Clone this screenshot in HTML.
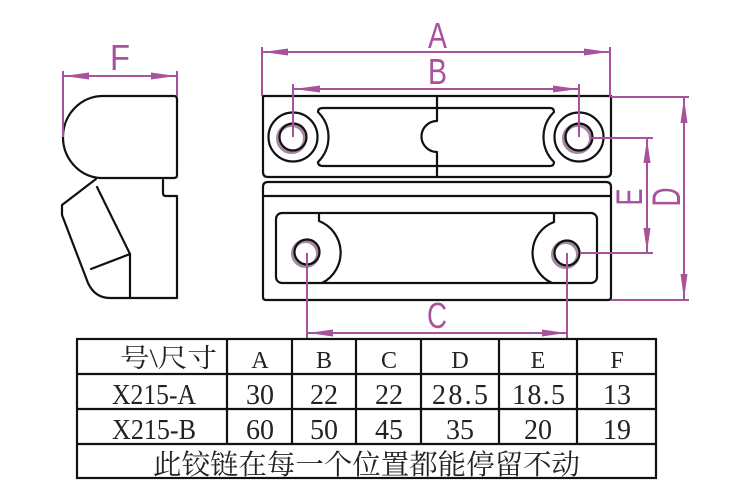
<!DOCTYPE html>
<html>
<head>
<meta charset="utf-8">
<style>
html,body{margin:0;padding:0;background:#fff;}
svg{display:block;}
</style>
</head>
<body>
<svg width="750" height="500" viewBox="0 0 750 500" xmlns="http://www.w3.org/2000/svg">
<rect x="0" y="0" width="750" height="500" fill="#fff"/>

<!-- ===== Side view (left) ===== -->
<g fill="none" stroke="#111" stroke-width="2.2" stroke-linejoin="round" stroke-linecap="round">
  <path d="M102,96 H174 Q177,96 177,99 V175 Q177,178 174,178 H100 A40 41 0 0 1 63,137 A40 41 0 0 1 102,96 Z"/>
  <path d="M96,179 L62,205 V215 L88,283 Q95,298 110,298 H177 V196 H166 Q163,196 163,193 V180"/>
  <path d="M97,187 L130,254 V298"/>
  <path d="M130,254 L91,269"/>
</g>

<!-- ===== Front view: upper block ===== -->
<g fill="none" stroke="#111" stroke-width="2.2" stroke-linejoin="round">
  <path d="M263,96 H611 V172 Q611,177 606,177 H268 Q263,177 263,172 Z"/>
  <path d="M437,108 H323 Q318,108 318,112 A35 35 0 0 1 318,162 Q318,166 323,166 H437"/>
  <path d="M437,108 H550 Q554,108 554,112 A35 35 0 0 0 554,162 Q554,166 550,166 H437"/>
  <path d="M437,96 V121 A15.5 15.5 0 0 0 437,152 V177"/>
  <circle cx="293" cy="137" r="24.5"/>
  <circle cx="579" cy="137" r="24.5"/>
</g>
<g fill="none" stroke="#8f6a8c" stroke-width="4" opacity="0.8">
  <circle cx="291.5" cy="138.5" r="13.5"/>
  <circle cx="577.5" cy="138.5" r="13.5"/>
  <circle cx="305.5" cy="253.5" r="12.5"/>
  <circle cx="565.5" cy="254.5" r="12.5"/>
</g>
<g fill="none" stroke="#111" stroke-width="2.2">
  <circle cx="293" cy="137" r="13.5"/>
  <circle cx="579" cy="137" r="13.5"/>
  <circle cx="307" cy="252" r="12.5"/>
  <circle cx="567" cy="253" r="12.5"/>
</g>

<!-- ===== Front view: lower block ===== -->
<g fill="none" stroke="#111" stroke-width="2.2" stroke-linejoin="round">
  <path d="M268,182 H606 Q611,182 611,187 V297 Q611,300 608,300 H266 Q263,300 263,297 V187 Q263,182 268,182 Z"/>
  <path d="M263,196 H611"/>
  <rect x="276" y="213" width="321" height="70" rx="6" ry="6"/>
  <path d="M319,213 V221 A34 34 0 0 1 322,283"/>
  <path d="M554,213 V222 A33 33 0 0 0 552,283"/>
</g>

<!-- ===== Dimensions (purple) ===== -->
<g stroke="#a9529c" stroke-width="2" fill="none">
  <line x1="262" y1="47" x2="262" y2="96"/>
  <line x1="610" y1="47" x2="610" y2="97"/>
  <line x1="263" y1="52" x2="609" y2="52"/>
  <line x1="293" y1="84" x2="293" y2="137"/>
  <line x1="579" y1="84" x2="579" y2="137"/>
  <line x1="294" y1="89" x2="578" y2="89"/>
  <line x1="307" y1="253" x2="307" y2="338"/>
  <line x1="567" y1="253" x2="567" y2="338"/>
  <line x1="308" y1="333" x2="566" y2="333"/>
  <line x1="611" y1="97" x2="689" y2="97"/>
  <line x1="611" y1="300" x2="689" y2="300"/>
  <line x1="684" y1="98" x2="684" y2="299"/>
  <line x1="590" y1="138" x2="653" y2="138"/>
  <line x1="581" y1="253" x2="653" y2="253"/>
  <line x1="647" y1="139" x2="647" y2="252"/>
  <line x1="63" y1="71" x2="63" y2="137"/>
  <line x1="177" y1="71" x2="177" y2="96"/>
  <line x1="64" y1="76" x2="176" y2="76"/>
</g>
<g fill="#a9529c" stroke="none">
  <polygon points="263,52 288,48.5 288,55.5"/>
  <polygon points="609,52 584,48.5 584,55.5"/>
  <polygon points="294,89 320,85.5 320,92.5"/>
  <polygon points="578,89 553,85.5 553,92.5"/>
  <polygon points="308,333 333,329.5 333,336.5"/>
  <polygon points="566,333 542,329.5 542,336.5"/>
  <polygon points="684,98 680.5,123 687.5,123"/>
  <polygon points="684,299 680.5,274 687.5,274"/>
  <polygon points="647,139 643.5,163 650.5,163"/>
  <polygon points="647,252 643.5,228 650.5,228"/>
  <polygon points="64,76 89,72.5 89,79.5"/>
  <polygon points="176,76 151,72.5 151,79.5"/>
</g>
<g fill="#a9529c" font-family="Liberation Sans, sans-serif" font-size="36">
  <text x="428" y="48" textLength="19" lengthAdjust="spacingAndGlyphs">A</text>
  <text x="428" y="84" textLength="19" lengthAdjust="spacingAndGlyphs">B</text>
  <text x="427" y="328" textLength="20" lengthAdjust="spacingAndGlyphs">C</text>
  <text x="110" y="70" textLength="20" lengthAdjust="spacingAndGlyphs">F</text>
  <text transform="translate(680,197) rotate(-90)" x="-9.5" y="0" font-size="40" textLength="19" lengthAdjust="spacingAndGlyphs">D</text>
  <text transform="translate(642,197) rotate(-90)" x="-8.5" y="0" font-size="37" textLength="17" lengthAdjust="spacingAndGlyphs">E</text>
</g>

<!-- ===== Table ===== -->
<g stroke="#111" stroke-width="2.2" fill="none">
  <rect x="77" y="339" width="579" height="139"/>
  <line x1="77" y1="374" x2="656" y2="374"/>
  <line x1="77" y1="409" x2="656" y2="409"/>
  <line x1="77" y1="444" x2="656" y2="444"/>
  <line x1="227" y1="339" x2="227" y2="444"/>
  <line x1="292" y1="339" x2="292" y2="444"/>
  <line x1="356" y1="339" x2="356" y2="444"/>
  <line x1="421" y1="339" x2="421" y2="444"/>
  <line x1="499" y1="339" x2="499" y2="444"/>
  <line x1="577" y1="339" x2="577" y2="444"/>
</g>
<g fill="#222" font-family="Liberation Serif, 'Noto Serif CJK SC', serif">
  <text x="120" y="367" font-size="26" textLength="97" lengthAdjust="spacingAndGlyphs">号\尺寸</text>
  <g font-size="24" text-anchor="middle">
    <text x="260" y="368">A</text>
    <text x="324" y="368">B</text>
    <text x="389" y="368">C</text>
    <text x="460" y="368">D</text>
    <text x="538" y="368">E</text>
    <text x="617" y="368">F</text>
  </g>
  <g font-size="28">
    <text x="112" y="404" textLength="84" lengthAdjust="spacingAndGlyphs">X215-A</text>
    <text x="112" y="439" textLength="84" lengthAdjust="spacingAndGlyphs">X215-B</text>
    <text x="432" y="404" textLength="56" lengthAdjust="spacing">28.5</text>
    <text x="512" y="404" textLength="53" lengthAdjust="spacing">18.5</text>
  </g>
  <g font-size="28" text-anchor="middle">
    <text x="260" y="404">30</text>
    <text x="324" y="404">22</text>
    <text x="389" y="404">22</text>
    <text x="617" y="404">13</text>
    <text x="260" y="439">60</text>
    <text x="324" y="439">50</text>
    <text x="389" y="439">45</text>
    <text x="460" y="439">35</text>
    <text x="538" y="439">20</text>
    <text x="617" y="439">19</text>
  </g>
  <text x="153" y="474" font-size="28" font-family="'Noto Serif CJK SC', serif" textLength="427" lengthAdjust="spacingAndGlyphs">此铰链在每一个位置都能停留不动</text>
</g>
</svg>
</body>
</html>
